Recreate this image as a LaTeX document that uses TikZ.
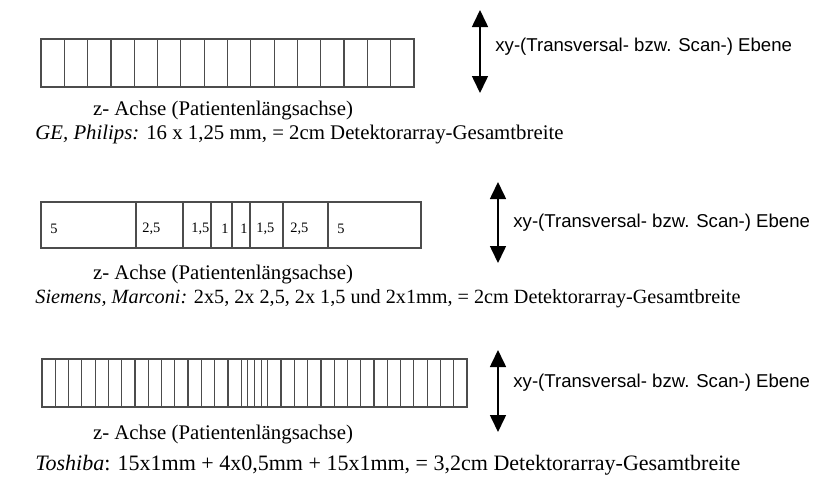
\documentclass[tikz,border=0pt]{standalone}
\usepackage{fontspec}
\setmainfont{Liberation Serif}
\setsansfont{Liberation Sans}
\usetikzlibrary{arrows.meta}

\begin{document}
\begin{tikzpicture}[x=0.5pt,y=-0.5pt,
  zeile/.style={black!70, line width=0.6pt},
  achse/.style={inner sep=0pt, font=\fontsize{10.4}{12}\selectfont},
  ebene/.style={right, inner sep=0pt, font=\sffamily\fontsize{9.3}{11}\selectfont},
  zahl/.style={right, inner sep=0pt, font=\fontsize{7.2}{8}\selectfont},
  pfeil/.style={{Triangle[length=8.5pt,width=8pt]}-{Triangle[length=8.5pt,width=8pt]}, line width=0.8pt}]
  \useasboundingbox (0,0) rectangle (815,477);

  % GE, Philips: 16 gleiche Zeilen
  \draw[zeile] (41,39) rectangle (414,87);
  \foreach \i in {1,...,15}
    \draw[zeile] ({41+\i*373/16},39) -- ({41+\i*373/16},87);
  \node[achse] (zachse1) at (223,111) {z- Achse (Patientenlängsachse)};
  \coordinate (oben1) at (480,10);
  \coordinate (unten1) at (480,93);
  \draw[pfeil] (oben1) -- (unten1);
  \node[ebene] (ebene1) at (495,47) {xy-(Transversal- bzw. Scan-) Ebene};
  \node[achse] (ge) at (35,135) [right] {\textit{GE, Philips:} 16 x 1,25 mm, = 2cm Detektorarray-Gesamtbreite};

  % Siemens, Marconi
  \draw[zeile] (41,202) rectangle (421,248);
  \foreach \x in {136,183,211,232,250,283,328}
    \draw[zeile] (\x,202) -- (\x,248);
  \node[zahl] (z1) at (50,229) {5};
  \node[zahl] (z2) at (142,229) {2,5};
  \node[zahl] (z3) at (191,229) {1,5};
  \node[zahl] (z4) at (221,229) {1};
  \node[zahl] (z5) at (240,229) {1};
  \node[zahl] (z6) at (256,229) {1,5};
  \node[zahl] (z7) at (290,229) {2,5};
  \node[zahl] (z8) at (337,229) {5};
  \node[achse] (zachse2) at (223,275) {z- Achse (Patientenlängsachse)};
  \coordinate (oben2) at (498,182);
  \coordinate (unten2) at (498,263);
  \draw[pfeil] (oben2) -- (unten2);
  \node[ebene] (ebene2) at (513,223) {xy-(Transversal- bzw. Scan-) Ebene};
  \node[achse, font=\fontsize{10.1}{12}\selectfont] (siemens) at (35,299) [right] {\textit{Siemens, Marconi:} 2x5, 2x 2,5, 2x 1,5 und 2x1mm, = 2cm Detektorarray-Gesamtbreite};

  % Toshiba: 15 + 4 halbe + 15 Zeilen
  \draw[zeile] (42,359) rectangle (467,407);
  \foreach \m in {1,...,31}
    \draw[zeile] ({42+\m*425/32},359) -- ({42+\m*425/32},407);
  \foreach \m in {15.5,16.5}
    \draw[zeile] ({42+\m*425/32},359) -- ({42+\m*425/32},407);
  \node[achse] (zachse3) at (223,435) {z- Achse (Patientenlängsachse)};
  \coordinate (oben3) at (498,350);
  \coordinate (unten3) at (498,432);
  \draw[pfeil] (oben3) -- (unten3);
  \node[ebene] (ebene3) at (513,383) {xy-(Transversal- bzw. Scan-) Ebene};
  \node[achse, font=\fontsize{11}{13}\selectfont] (toshiba) at (35,465) [right] {\textit{Toshiba}: 15x1mm + 4x0,5mm + 15x1mm, = 3,2cm Detektorarray-Gesamtbreite};
\end{tikzpicture}
\end{document}
